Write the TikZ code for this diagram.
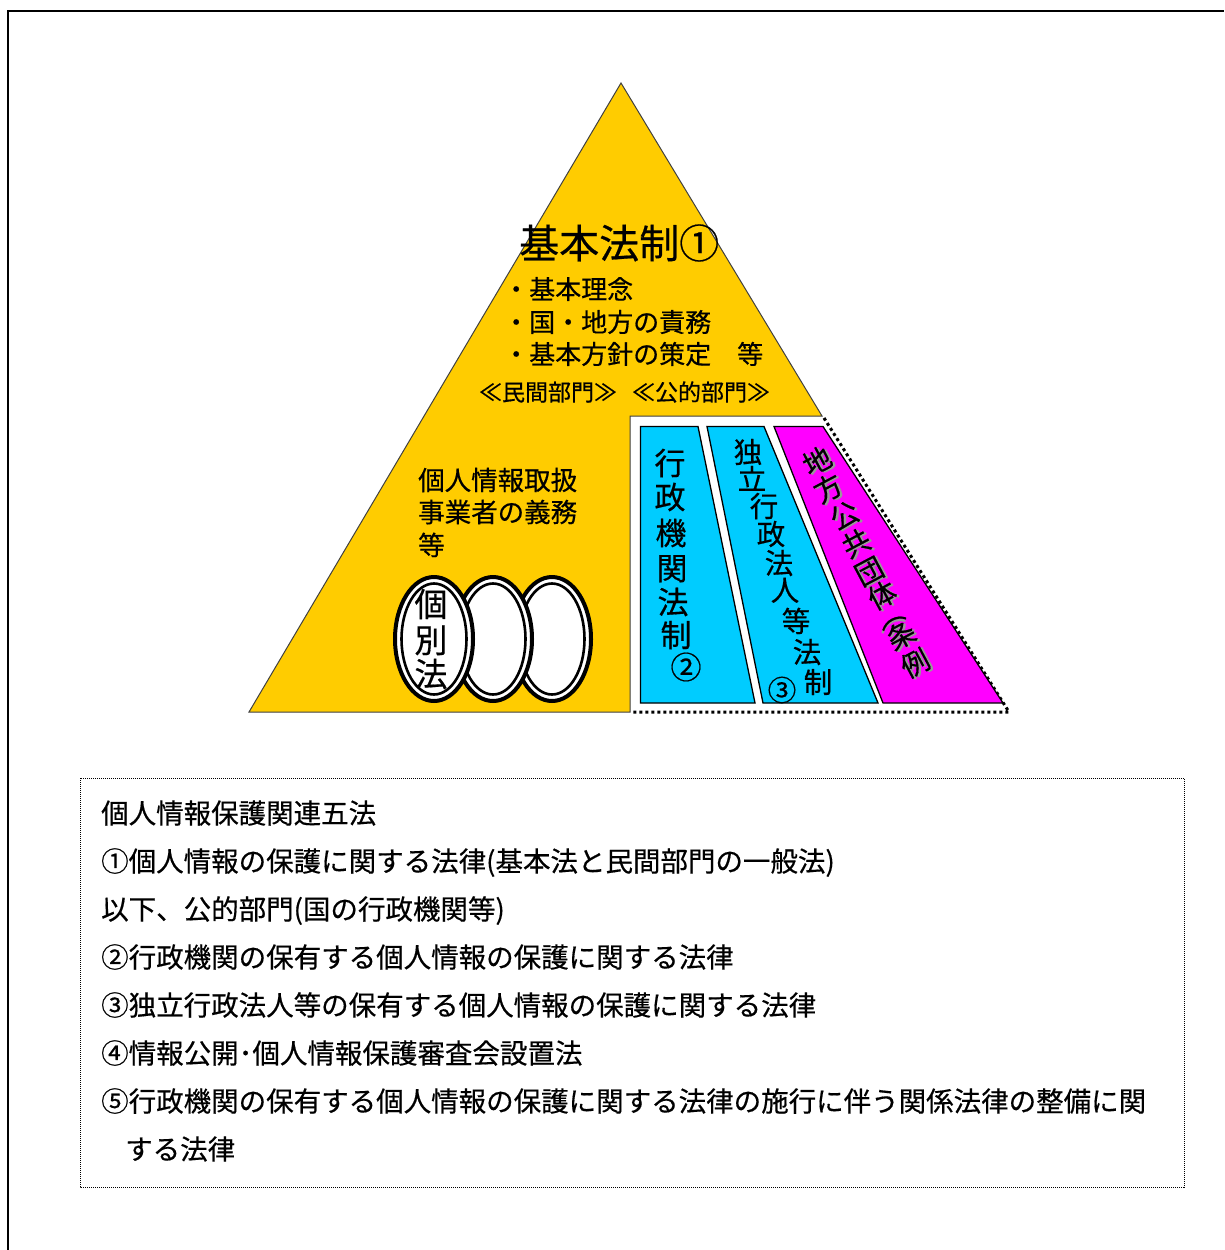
\documentclass[tikz,border=0pt]{standalone}
\usepackage{fontspec}
\newfontfamily\jp[FakeBold=0.5]{Noto Sans CJK JP}
\newcommand\jpsz[1]{\fontsize{#1}{#1}\selectfont}
\newcommand\shadowch[1]{\makebox[0pt][l]{\hspace{1.8pt}\raisebox{-1.8pt}{\textcolor{black!40}{#1}}}#1}
\definecolor{tri}{HTML}{FFCC00}
\definecolor{cy}{HTML}{00CCFF}
\definecolor{mg}{HTML}{FF00FF}
\tikzset{
  jt/.style={inner sep=0pt, font={\jp\jpsz{#1}}, text height={0.88*#1pt}, text depth={0.12*#1pt}},
  col/.style={draw=black, line width=1.3pt},
  dotb/.style={line width=3pt, dash pattern=on 3pt off 3pt},
  oval/.style={fill=white, draw=black, line width=4pt},
  ovalin/.style={draw=black, line width=2.6pt},
}
\begin{document}
\begin{tikzpicture}[x=1pt,y=-1pt]
\useasboundingbox (0,0) rectangle (1224,1250);
% outer frame
\draw[line width=2pt] (7.5,1250) -- (7.5,10.5) -- (1224,10.5);
% pyramid
\draw[fill=tri, draw=black!75, line width=1pt] (621,83) -- (822,416) -- (630,416) -- (630,712) -- (249,712) -- cycle;
\draw[dotb] (824,418) -- (1009,712) -- (632,712);
% columns
\draw[col, fill=cy] (640.5,426.5) -- (698,426.5) -- (755,703) -- (640.5,703) -- cycle;
\draw[col, fill=cy] (707,426.5) -- (764,426.5) -- (878,703) -- (763,703) -- cycle;
\draw[col, fill=mg] (774,426.5) -- (823,426.5) -- (1003,703) -- (883,703) -- cycle;
% top texts
\node[jt=40, anchor=west] (title) at (519,243) {基本法制①};
\node[jt=26, anchor=west] (b1) at (503,289) {・基本理念};
\node[jt=26, anchor=west] (b2) at (503,322) {・国・地方の責務};
\node[jt=26, anchor=west] (b3) at (503,354) {・基本方針の策定　等};
\node[jt=23] (priv) at (548,392) {≪民間部門≫};
\node[jt=23] (pub) at (701,392) {≪公的部門≫};
% private sector text
\node[jt=26.5, anchor=west] (l1) at (418,480) {個人情報取扱};
\node[jt=26.5, anchor=west] (l2) at (418,512) {事業者の義務};
\node[jt=26.5, anchor=west] (l3) at (418,545) {等};
% ovals
\foreach \cx/\nm in {552/o3, 493/o2, 434/o1}{
  \draw[oval] (\cx,639) ellipse [x radius=39, y radius=62];
  \draw[ovalin] (\cx,639) ellipse [x radius=32.5, y radius=55.5];
}
\node[jt=33] (k1) at (431,604) {個};
\node[jt=33] (k2) at (431,640) {別};
\node[jt=33] (k3) at (431,674) {法};
% column 1
\node[jt=31] (a1) at (670,463) {行};
\node[jt=31] (a2) at (670,497) {政};
\node[jt=31] (a3) at (671,533) {機};
\node[jt=31] (a4) at (672,568) {関};
\node[jt=31] (a5) at (673,602) {法};
\node[jt=31] (a6) at (676,635) {制};
\node[jt=31] (a7) at (686,667) {②};
% column 2
\node[jt=28.5] (c1) at (748,452) {独};
\node[jt=28.5] (c2) at (752,479) {立};
\node[jt=28.5] (c3) at (764,506) {行};
\node[jt=28.5] (c4) at (771,534) {政};
\node[jt=28.5] (c5) at (779,563) {法};
\node[jt=28.5] (c6) at (785,590) {人};
\node[jt=28.5] (c7) at (796,621) {等};
\node[jt=28.5] (c8) at (807,652) {法};
\node[jt=28.5] (c9) at (818,682) {制};
\node[jt=28.5] (c10) at (782,690) {③};
% column 3 (rotated, shadowed)
\foreach \ch/\x/\y/\r [count=\i] in {地/817/461/28, 方/828/488/28, 公/844/515/28, 共/856/543/28, 団/869/571/28, 体/882/595/28, （/889/614/-62, 条/901/635/28, 例/915/663/28}{
  \node[jt=28, rotate=\r] (d\i) at (\x,\y) {\shadowch{\ch}};
}
% bottom box
\draw[line width=1pt, dash pattern=on 1pt off 1pt] (80,778) rectangle (1184,1187);
\node[jt=27.5, anchor=west] (t0) at (101,813) {個人情報保護関連五法};
\node[jt=27.5, anchor=west] (t1) at (101,861) {①個人情報の保護に関する法律(基本法と民間部門の一般法)};
\node[jt=27.5, anchor=west] (t2) at (101,909) {以下、公的部門(国の行政機関等)};
\node[jt=27.5, anchor=west] (t3) at (101,957) {②行政機関の保有する個人情報の保護に関する法律};
\node[jt=27.5, anchor=west] (t4) at (101,1005) {③独立行政法人等の保有する個人情報の保護に関する法律};
\node[jt=27.5, anchor=west] (t5) at (101,1053) {④情報公開･個人情報保護審査会設置法};
\node[jt=27.5, anchor=west] (t6) at (101,1101) {⑤行政機関の保有する個人情報の保護に関する法律の施行に伴う関係法律の整備に関};
\node[jt=27.5, anchor=west] (t7) at (125,1149) {する法律};
\end{tikzpicture}
\end{document}
